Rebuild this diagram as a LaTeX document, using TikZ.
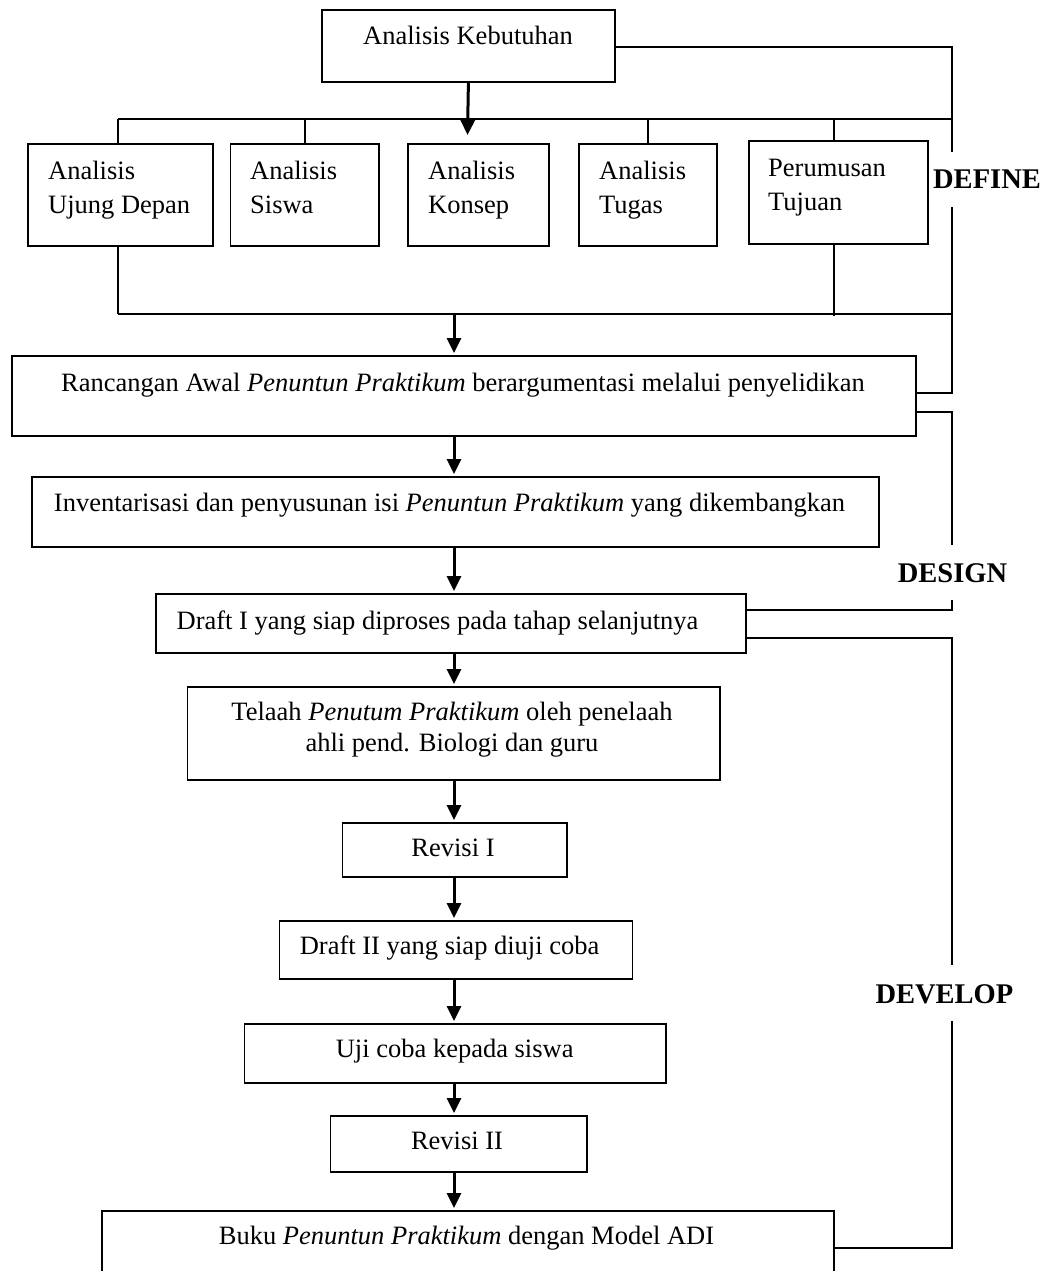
\documentclass[tikz,border=0pt]{standalone}
\usepackage{fontspec}
\setmainfont{Liberation Serif}
\usetikzlibrary{arrows.meta,calc}
\newcommand\tbl[1]{\begin{tabular}[t]{@{}l@{}}#1\end{tabular}}
\newcommand\tbc[1]{\begin{tabular}[t]{@{}c@{}}#1\end{tabular}}
\begin{document}
\begin{tikzpicture}[x=1pt,y=-1pt,
  box/.style={draw, line width=1.8pt, inner sep=0pt, anchor=north west},
  txt/.style={inner sep=0pt, font=\fontsize{26.5}{34}\selectfont},
  lbl/.style={inner sep=0pt, font=\fontsize{28.5}{34}\selectfont\bfseries, anchor=base},
  conn/.style={line width=1.8pt},
  arr/.style={line width=3pt, -{Triangle[length=15pt,width=14pt]}, shorten >=2pt}]
\clip (0,0) rectangle (1052,1271);
\fill[white] (0,0) rectangle (1052,1271);

% boxes
\node[box, minimum width=293pt, minimum height=72pt] (ak) at (321,9) {};
\node[box, minimum width=185pt, minimum height=102pt] (a1) at (27,143) {};
\node[box, minimum width=148.5pt, minimum height=102pt] (a2) at (229.5,143) {};
\node[box, minimum width=141pt, minimum height=102pt] (a3) at (407,143) {};
\node[box, minimum width=138pt, minimum height=102pt] (a4) at (578,143) {};
\node[box, minimum width=179pt, minimum height=103pt] (a5) at (748,140) {};
\node[box, minimum width=904pt, minimum height=80pt] (ra) at (11,355) {};
\node[box, minimum width=847pt, minimum height=70pt] (inv) at (31,476) {};
\node[box, minimum width=590pt, minimum height=59pt] (d1) at (155,593) {};
\node[box, minimum width=532.4pt, minimum height=93pt] (tel) at (186.6,686) {};
\node[box, minimum width=224.2pt, minimum height=54pt] (r1) at (341.6,822) {};
\node[box, minimum width=353pt, minimum height=58pt] (d2) at (278.5,920) {};
\node[box, minimum width=421.4pt, minimum height=59pt] (uji) at (243.6,1023) {};
\node[box, minimum width=256.5pt, minimum height=56pt] (r2) at (329.5,1115) {};
\node[box, minimum width=732.3pt, minimum height=100pt] (buku) at (100.7,1210) {};

% texts
\node[txt, anchor=base] (tak) at (468,45) {Analisis Kebutuhan};
\node[txt, anchor=base west] (ta1) at (48,179) {\tbl{Analisis\\Ujung Depan}};
\node[txt, anchor=base west] (ta2) at (250,179) {\tbl{Analisis\\Siswa}};
\node[txt, anchor=base west] (ta3) at (428,179) {\tbl{Analisis\\Konsep}};
\node[txt, anchor=base west] (ta4) at (599,179) {\tbl{Analisis\\Tugas}};
\node[txt, anchor=base west] (ta5) at (768,176) {\tbl{Perumusan\\Tujuan}};
\node[txt, anchor=base] (tra) at (463,391) {Rancangan Awal \textit{Penuntun Praktikum} berargumentasi melalui penyelidikan};
\node[txt, anchor=base] (tinv) at (449.5,511) {Inventarisasi dan penyusunan isi \textit{Penuntun Praktikum} yang dikembangkan};
\node[txt, anchor=base] (td1) at (437.5,629) {Draft I yang siap diproses pada tahap selanjutnya};
\node[txt, anchor=base] (ttel) at (452,720) {\tbc{Telaah \textit{Penutum Praktikum} oleh penelaah\\[-3pt]ahli pend. Biologi dan guru}};
\node[txt, anchor=base] (tr1) at (453,856) {Revisi I};
\node[txt, anchor=base] (td2) at (449.6,954) {Draft II yang siap diuji coba};
\node[txt, anchor=base] (tuji) at (454.7,1057) {Uji coba kepada siswa};
\node[txt, anchor=base] (tr2) at (457,1149) {Revisi II};
\node[txt, anchor=base] (tbuku) at (466.5,1244) {Buku \textit{Penuntun Praktikum} dengan Model ADI};

% phase labels
\node[lbl] (define) at (987,188) {DEFINE};
\node[lbl] (design) at (952.5,582) {DESIGN};
\node[lbl] (develop) at (944.4,1003) {DEVELOP};

% define branching
\coordinate (hl1w) at (118,119);
\coordinate (hl1e) at (952,119);
\coordinate (hl2w) at (118,314);
\coordinate (hl2e) at (952,314);
\draw[conn] (hl1w) -- (hl1e);
\draw[conn] (hl1w) -- (hl1w |- a1.north);
\draw[conn] (a2.north) -- (a2.north |- hl1w);
\draw[conn] (a4.north) -- (a4.north |- hl1w);
\draw[conn] ($(a5.north)+(-4.5,0)$) -- ($(a5.north |- hl1w)+(-4.5,0)$);
\draw[conn] (hl2w) -- (hl2e);
\draw[conn] (hl2w |- a1.south) -- (hl2w);
\draw[conn] ($(a5.south)+(-4.5,0)$) -- ($(a5.south |- hl2w)+(-4.5,2)$);

% arrows
\coordinate (aktip) at (467.5,135);
\coordinate (j2) at (454,314);
\draw[arr, shorten >=0pt] (ak.south) -- (aktip);
\draw[arr] (j2) -- (j2 |- ra.north);
\draw[arr] (ra.south -| j2) -- (inv.north -| j2);
\draw[arr] (inv.south -| j2) -- (d1.north -| j2);
\draw[arr] (d1.south -| j2) -- (tel.north -| j2);
\draw[arr] (tel.south -| j2) -- (r1.north -| j2);
\draw[arr] (r1.south -| j2) -- (d2.north -| j2);
\draw[arr] (d2.south -| j2) -- (uji.north -| j2);
\draw[arr] (uji.south -| j2) -- (r2.north -| j2);
\draw[arr] (r2.south -| j2) -- (buku.north -| j2);

% phase brackets
\coordinate (defTop) at (952,152);
\coordinate (defBot) at (952,207);
\coordinate (desTop) at (952,545);
\coordinate (desBot) at (952,600);
\coordinate (devTop) at (952,965);
\coordinate (devBot) at (952,1021);
\draw[conn] (ak.east |- 0,47) -| (defTop);
\draw[conn] (defBot) |- (ra.east |- 0,393);
\draw[conn] (ra.east |- 0,412) -| (desTop);
\draw[conn] (desBot) |- (d1.east |- 0,610);
\draw[conn] (d1.east |- 0,638) -| (devTop);
\draw[conn] (devBot) |- (buku.east |- 0,1248);
\end{tikzpicture}
\end{document}
